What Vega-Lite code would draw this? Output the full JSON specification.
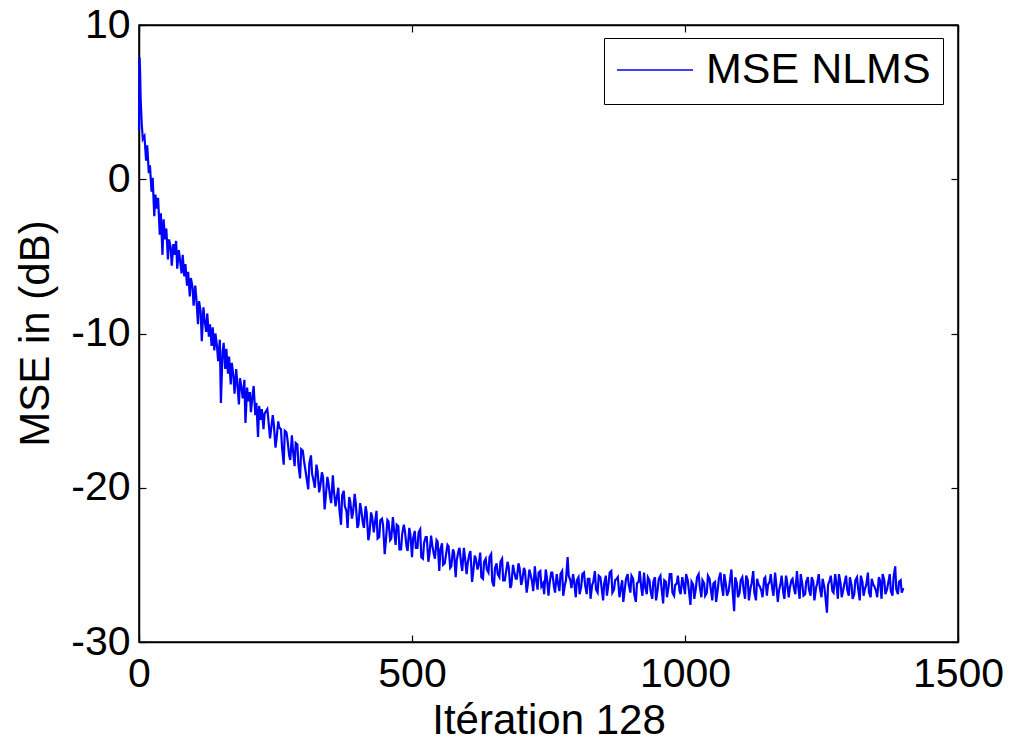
{
  "$schema": "https://vega.github.io/schema/vega-lite/v6.json",
  "width": 819,
  "height": 617,
  "autosize": {"type": "none"},
  "padding": {"left": 139, "top": 25, "right": 54, "bottom": 102},
  "background": "white",
  "config": {
    "view": {"stroke": "black", "strokeWidth": 1.5},
    "font": "Liberation Sans",
    "axis": {
      "grid": false,
      "domainColor": "black",
      "domainWidth": 1.5,
      "tickColor": "black",
      "tickWidth": 1.2,
      "tickSize": -7,
      "labelFont": "Liberation Sans",
      "labelFontSize": 41,
      "labelColor": "black",
      "titleFont": "Liberation Sans",
      "titleFontSize": 42,
      "titleFontWeight": "normal",
      "titleColor": "black"
    }
  },
  "data": {"values": [
    {"i":0,"v":3.2},{"i":1,"v":7.9},{"i":2,"v":7.0},{"i":3,"v":5.2},{"i":5,"v":3.6},{"i":7,"v":2.6},
    {"i":10,"v":2.8},{"i":13,"v":1.2},{"i":15,"v":2.2},{"i":18,"v":0.4},{"i":20,"v":0.9},{"i":23,"v":-0.8},
    {"i":25,"v":0.1},{"i":28,"v":-2.4},{"i":30,"v":-1.0},{"i":33,"v":-1.9},{"i":35,"v":-1.2},{"i":38,"v":-3.6},
    {"i":40,"v":-2.2},{"i":43,"v":-4.9},{"i":45,"v":-2.6},{"i":48,"v":-3.9},{"i":50,"v":-3.2},{"i":53,"v":-5.2},
    {"i":55,"v":-3.9},{"i":58,"v":-4.4},{"i":60,"v":-5.6},{"i":63,"v":-4.2},{"i":65,"v":-4.9},{"i":68,"v":-4.0},
    {"i":70,"v":-5.8},{"i":73,"v":-4.6},{"i":75,"v":-5.2},{"i":78,"v":-6.1},{"i":80,"v":-4.9},{"i":83,"v":-6.3},
    {"i":85,"v":-5.5},{"i":88,"v":-6.9},{"i":90,"v":-6.0},{"i":93,"v":-7.6},{"i":95,"v":-6.4},{"i":98,"v":-7.0},
    {"i":100,"v":-8.2},{"i":103,"v":-6.9},{"i":105,"v":-7.7},{"i":108,"v":-9.4},{"i":110,"v":-7.9},{"i":113,"v":-8.6},
    {"i":115,"v":-10.5},{"i":118,"v":-8.3},{"i":120,"v":-9.1},{"i":123,"v":-9.9},{"i":125,"v":-8.7},{"i":128,"v":-10.2},
    {"i":130,"v":-9.4},{"i":133,"v":-10.8},{"i":135,"v":-9.6},{"i":138,"v":-11.1},{"i":140,"v":-10.0},{"i":143,"v":-10.9},
    {"i":145,"v":-11.8},{"i":148,"v":-10.4},{"i":150,"v":-14.5},{"i":153,"v":-11.2},{"i":155,"v":-10.6},{"i":158,"v":-12.3},
    {"i":160,"v":-11.0},{"i":163,"v":-12.6},{"i":165,"v":-11.5},{"i":168,"v":-13.3},{"i":170,"v":-11.9},{"i":173,"v":-12.8},
    {"i":175,"v":-13.9},{"i":178,"v":-12.3},{"i":180,"v":-13.2},{"i":183,"v":-14.6},{"i":185,"v":-12.9},{"i":188,"v":-13.6},
    {"i":190,"v":-14.2},{"i":193,"v":-13.0},{"i":195,"v":-15.8},{"i":198,"v":-13.5},{"i":200,"v":-14.4},{"i":203,"v":-13.8},
    {"i":205,"v":-15.1},{"i":208,"v":-14.0},{"i":210,"v":-13.4},{"i":213,"v":-15.3},{"i":215,"v":-14.5},{"i":218,"v":-16.7},
    {"i":220,"v":-14.7},{"i":223,"v":-15.6},{"i":225,"v":-14.9},{"i":228,"v":-16.2},{"i":230,"v":-15.2},
    {"i":235,"v":-14.9},{"i":240,"v":-16.8},{"i":245,"v":-15.3},{"i":250,"v":-17.4},{"i":255,"v":-15.7},{"i":260,"v":-16.2},
    {"i":265,"v":-18.5},{"i":270,"v":-16.4},{"i":275,"v":-17.9},{"i":280,"v":-16.6},{"i":285,"v":-18.6},{"i":290,"v":-17.2},
    {"i":295,"v":-19.4},{"i":300,"v":-17.6},{"i":305,"v":-18.9},{"i":310,"v":-20.1},{"i":315,"v":-17.9},{"i":320,"v":-19.6},
    {"i":325,"v":-18.5},{"i":330,"v":-20.3},{"i":335,"v":-19.0},{"i":340,"v":-21.4},{"i":345,"v":-19.3},{"i":350,"v":-20.6},
    {"i":355,"v":-19.2},{"i":360,"v":-21.2},{"i":365,"v":-20.0},{"i":370,"v":-22.4},{"i":375,"v":-20.2},{"i":380,"v":-21.5},
    {"i":385,"v":-20.6},{"i":390,"v":-22.0},{"i":395,"v":-20.4},{"i":400,"v":-22.6},{"i":405,"v":-21.0},{"i":410,"v":-22.3},
    {"i":415,"v":-21.2},{"i":420,"v":-23.4},{"i":425,"v":-21.6},{"i":430,"v":-22.9},{"i":435,"v":-21.5},{"i":440,"v":-23.2},
    {"i":445,"v":-22.0},{"i":450,"v":-24.3},{"i":455,"v":-22.1},{"i":460,"v":-23.4},{"i":465,"v":-21.9},{"i":470,"v":-23.7},
    {"i":475,"v":-22.5},{"i":480,"v":-24.0},{"i":485,"v":-22.4},{"i":490,"v":-23.8},{"i":495,"v":-22.6},{"i":500,"v":-24.5},
    {"i":505,"v":-22.8},{"i":510,"v":-23.9},{"i":515,"v":-22.7},{"i":520,"v":-24.6},{"i":525,"v":-23.2},{"i":530,"v":-24.8},
    {"i":535,"v":-23.1},{"i":540,"v":-24.3},{"i":545,"v":-23.4},{"i":550,"v":-25.4},{"i":555,"v":-23.6},{"i":560,"v":-24.9},
    {"i":565,"v":-23.7},{"i":570,"v":-25.2},{"i":575,"v":-24.0},{"i":580,"v":-25.8},{"i":585,"v":-24.1},{"i":590,"v":-24.9},
    {"i":595,"v":-23.9},{"i":600,"v":-25.6},{"i":605,"v":-24.3},{"i":610,"v":-26.1},{"i":615,"v":-24.4},{"i":620,"v":-25.3},
    {"i":625,"v":-24.2},{"i":630,"v":-25.9},{"i":635,"v":-24.6},{"i":640,"v":-25.5},{"i":645,"v":-24.3},{"i":650,"v":-26.4},
    {"i":655,"v":-24.9},{"i":660,"v":-25.8},{"i":665,"v":-24.6},{"i":670,"v":-26.0},{"i":675,"v":-24.8},{"i":680,"v":-26.5},
    {"i":685,"v":-25.0},{"i":690,"v":-25.9},{"i":695,"v":-24.9},{"i":700,"v":-26.3},{"i":705,"v":-25.2},{"i":710,"v":-26.8},
    {"i":715,"v":-25.3},{"i":720,"v":-26.1},{"i":725,"v":-25.1},{"i":730,"v":-26.6},{"i":735,"v":-25.4},{"i":740,"v":-26.2},
    {"i":745,"v":-25.3},{"i":750,"v":-27.0},{"i":755,"v":-25.5},{"i":760,"v":-26.4},{"i":765,"v":-25.6},{"i":770,"v":-26.7},
    {"i":775,"v":-25.4},{"i":780,"v":-26.3},{"i":785,"v":-24.5},{"i":790,"v":-26.0},{"i":795,"v":-25.6},{"i":800,"v":-27.1},
    {"i":805,"v":-25.8},{"i":810,"v":-26.4},{"i":815,"v":-25.5},{"i":820,"v":-26.9},{"i":825,"v":-25.9},{"i":830,"v":-26.3},
    {"i":835,"v":-25.4},{"i":840,"v":-26.8},{"i":845,"v":-25.8},{"i":850,"v":-27.3},{"i":855,"v":-25.7},{"i":860,"v":-26.2},
    {"i":865,"v":-25.4},{"i":870,"v":-26.6},{"i":875,"v":-25.9},{"i":880,"v":-27.1},{"i":885,"v":-26.0},{"i":890,"v":-26.5},
    {"i":895,"v":-25.6},{"i":900,"v":-26.8},{"i":905,"v":-25.9},{"i":910,"v":-27.4},{"i":915,"v":-26.1},{"i":920,"v":-26.5},
    {"i":925,"v":-25.5},{"i":930,"v":-26.9},{"i":935,"v":-26.0},{"i":940,"v":-27.2},{"i":945,"v":-25.8},{"i":950,"v":-26.6},
    {"i":955,"v":-25.7},{"i":960,"v":-27.5},{"i":965,"v":-26.1},{"i":970,"v":-26.4},{"i":975,"v":-25.6},{"i":980,"v":-27.0},
    {"i":985,"v":-26.2},{"i":990,"v":-26.7},{"i":995,"v":-25.8},{"i":1000,"v":-26.9},{"i":1005,"v":-26.0},{"i":1010,"v":-27.6},
    {"i":1015,"v":-26.3},{"i":1020,"v":-26.5},{"i":1025,"v":-25.6},{"i":1030,"v":-27.1},{"i":1035,"v":-26.2},{"i":1040,"v":-26.8},
    {"i":1045,"v":-25.9},{"i":1050,"v":-27.3},{"i":1055,"v":-26.1},{"i":1060,"v":-26.6},{"i":1065,"v":-25.5},{"i":1070,"v":-27.0},
    {"i":1075,"v":-26.3},{"i":1080,"v":-26.7},{"i":1085,"v":-25.3},{"i":1090,"v":-28.0},{"i":1095,"v":-26.2},{"i":1100,"v":-26.8},
    {"i":1105,"v":-25.8},{"i":1110,"v":-27.2},{"i":1115,"v":-26.0},{"i":1120,"v":-26.5},{"i":1125,"v":-25.4},{"i":1130,"v":-27.3},
    {"i":1135,"v":-26.3},{"i":1140,"v":-26.7},{"i":1145,"v":-25.9},{"i":1150,"v":-27.0},{"i":1155,"v":-26.1},{"i":1160,"v":-26.6},
    {"i":1165,"v":-25.5},{"i":1170,"v":-27.4},{"i":1175,"v":-26.2},{"i":1180,"v":-26.8},{"i":1185,"v":-25.7},{"i":1190,"v":-27.1},
    {"i":1195,"v":-26.0},{"i":1200,"v":-26.6},{"i":1205,"v":-25.4},{"i":1210,"v":-27.2},{"i":1215,"v":-26.3},{"i":1220,"v":-26.9},
    {"i":1225,"v":-25.8},{"i":1230,"v":-27.0},{"i":1235,"v":-26.1},{"i":1240,"v":-26.5},{"i":1245,"v":-25.6},{"i":1250,"v":-27.1},
    {"i":1255,"v":-26.4},{"i":1260,"v":-28.1},{"i":1265,"v":-26.0},{"i":1270,"v":-26.7},{"i":1275,"v":-25.6},{"i":1280,"v":-27.2},
    {"i":1285,"v":-26.2},{"i":1290,"v":-26.6},{"i":1295,"v":-25.7},{"i":1300,"v":-27.0},{"i":1305,"v":-26.3},{"i":1310,"v":-26.9},
    {"i":1315,"v":-25.8},{"i":1320,"v":-27.3},{"i":1325,"v":-26.1},{"i":1330,"v":-26.5},{"i":1335,"v":-25.5},{"i":1340,"v":-27.1},
    {"i":1345,"v":-26.3},{"i":1350,"v":-26.7},{"i":1355,"v":-25.8},{"i":1360,"v":-27.2},{"i":1365,"v":-26.0},{"i":1370,"v":-26.6},
    {"i":1375,"v":-25.6},{"i":1380,"v":-27.0},{"i":1385,"v":-25.1},{"i":1390,"v":-26.9},{"i":1395,"v":-26.0},{"i":1400,"v":-26.5},
    {"i":237,"v":-15.6},{"i":242,"v":-16.2},{"i":247,"v":-15.9},{"i":252,"v":-16.8},{"i":257,"v":-16.1},{"i":262,"v":-17.4},
    {"i":267,"v":-16.3},{"i":272,"v":-16.9},{"i":277,"v":-18.2},{"i":282,"v":-17.6},{"i":287,"v":-17.1},{"i":292,"v":-18.5},
    {"i":297,"v":-17.5},{"i":302,"v":-18.2},{"i":307,"v":-19.4},{"i":312,"v":-18.4},{"i":317,"v":-19.1},{"i":322,"v":-20.0},
    {"i":327,"v":-18.9},{"i":332,"v":-19.9},{"i":337,"v":-19.3},{"i":342,"v":-20.6},{"i":347,"v":-19.7},{"i":352,"v":-21.0},
    {"i":357,"v":-20.2},{"i":362,"v":-20.7},{"i":367,"v":-21.4},{"i":372,"v":-20.5},{"i":377,"v":-21.2},{"i":382,"v":-22.6},
    {"i":387,"v":-20.9},{"i":392,"v":-21.6},{"i":397,"v":-21.0},
    {"i":402,"v":-22.4},{"i":407,"v":-21.4},{"i":412,"v":-22.6},{"i":417,"v":-21.6},{"i":422,"v":-23.0},{"i":427,"v":-21.9},
    {"i":432,"v":-22.3},{"i":437,"v":-23.3},{"i":442,"v":-22.1},{"i":447,"v":-22.4},{"i":452,"v":-23.5},{"i":457,"v":-22.2},
    {"i":462,"v":-23.3},{"i":467,"v":-22.7},{"i":472,"v":-22.4},{"i":477,"v":-24.0},{"i":482,"v":-23.0},{"i":487,"v":-22.8},
    {"i":492,"v":-24.1},{"i":497,"v":-23.0},{"i":502,"v":-23.3},{"i":507,"v":-23.9},{"i":512,"v":-22.9},{"i":517,"v":-24.5},
    {"i":522,"v":-23.6},{"i":527,"v":-23.2},{"i":532,"v":-24.3},{"i":537,"v":-23.7},{"i":542,"v":-24.6},{"i":547,"v":-23.5},
    {"i":552,"v":-24.0},{"i":557,"v":-25.0},{"i":562,"v":-24.4},{"i":567,"v":-23.8},{"i":572,"v":-25.1},{"i":577,"v":-24.2},
    {"i":582,"v":-24.7},{"i":587,"v":-23.9},{"i":592,"v":-25.4},{"i":597,"v":-24.5},{"i":602,"v":-24.9},{"i":607,"v":-24.1},
    {"i":612,"v":-25.5},{"i":617,"v":-24.6},{"i":622,"v":-25.0},{"i":627,"v":-25.8},{"i":632,"v":-24.8},{"i":637,"v":-25.3},
    {"i":642,"v":-24.5},{"i":647,"v":-26.1},{"i":652,"v":-25.2},{"i":657,"v":-25.6},{"i":662,"v":-24.8},{"i":667,"v":-26.0},
    {"i":672,"v":-25.5},{"i":677,"v":-25.1},{"i":682,"v":-26.3},{"i":687,"v":-25.4},{"i":692,"v":-25.9},{"i":697,"v":-25.2},
    {"i":702,"v":-26.0},{"i":707,"v":-25.4},{"i":712,"v":-26.3},{"i":717,"v":-25.6},{"i":722,"v":-26.7},{"i":727,"v":-25.9},
    {"i":732,"v":-25.5},{"i":737,"v":-26.4},{"i":742,"v":-26.9},{"i":747,"v":-25.8},{"i":752,"v":-26.2},{"i":757,"v":-25.5},
    {"i":762,"v":-26.8},{"i":767,"v":-26.1},{"i":772,"v":-25.6},{"i":777,"v":-27.0},{"i":782,"v":-26.0},{"i":787,"v":-25.7},
    {"i":792,"v":-26.5},{"i":797,"v":-26.1},
    {"i":802,"v":-26.0},{"i":807,"v":-26.9},{"i":812,"v":-25.6},{"i":817,"v":-26.3},{"i":822,"v":-25.9},{"i":827,"v":-27.2},
    {"i":832,"v":-26.1},{"i":837,"v":-26.6},{"i":842,"v":-25.7},{"i":847,"v":-26.4},{"i":852,"v":-26.2},{"i":857,"v":-27.0},
    {"i":862,"v":-25.5},{"i":867,"v":-26.8},{"i":872,"v":-26.0},{"i":877,"v":-25.8},{"i":882,"v":-26.6},{"i":887,"v":-27.4},
    {"i":892,"v":-25.9},{"i":897,"v":-26.3},{"i":902,"v":-25.7},{"i":907,"v":-26.9},{"i":912,"v":-26.2},{"i":917,"v":-25.4},
    {"i":922,"v":-27.0},{"i":927,"v":-26.4},{"i":932,"v":-25.8},{"i":937,"v":-26.7},{"i":942,"v":-26.1},{"i":947,"v":-27.3},
    {"i":952,"v":-25.9},{"i":957,"v":-26.5},{"i":962,"v":-26.0},{"i":967,"v":-27.1},{"i":972,"v":-25.6},{"i":977,"v":-26.8},
    {"i":982,"v":-26.3},{"i":987,"v":-25.7},{"i":992,"v":-26.9},{"i":997,"v":-26.2},{"i":1002,"v":-25.6},{"i":1007,"v":-26.6},
    {"i":1012,"v":-26.1},{"i":1017,"v":-27.2},{"i":1022,"v":-25.8},{"i":1027,"v":-26.4},{"i":1032,"v":-26.0},{"i":1037,"v":-27.0},
    {"i":1042,"v":-25.7},{"i":1047,"v":-26.5},{"i":1052,"v":-26.2},{"i":1057,"v":-27.4},{"i":1062,"v":-25.9},{"i":1067,"v":-26.3},
    {"i":1072,"v":-25.6},{"i":1077,"v":-27.0},{"i":1082,"v":-26.1},{"i":1087,"v":-26.6},{"i":1092,"v":-25.8},{"i":1097,"v":-27.1},
    {"i":1102,"v":-26.0},{"i":1107,"v":-26.5},{"i":1112,"v":-25.7},{"i":1117,"v":-27.3},{"i":1122,"v":-26.2},{"i":1127,"v":-26.8},
    {"i":1132,"v":-25.9},{"i":1137,"v":-26.4},{"i":1142,"v":-27.1},{"i":1147,"v":-25.8},{"i":1152,"v":-26.3},{"i":1157,"v":-25.6},
    {"i":1162,"v":-27.0},{"i":1167,"v":-26.2},{"i":1172,"v":-26.7},{"i":1177,"v":-25.7},{"i":1182,"v":-27.2},{"i":1187,"v":-26.1},
    {"i":1192,"v":-26.5},{"i":1197,"v":-25.9},{"i":1202,"v":-26.9},{"i":1207,"v":-26.3},{"i":1212,"v":-25.6},{"i":1217,"v":-27.0},
    {"i":1222,"v":-26.1},{"i":1227,"v":-26.6},{"i":1232,"v":-25.8},{"i":1237,"v":-27.3},{"i":1242,"v":-26.2},{"i":1247,"v":-26.5},
    {"i":1252,"v":-25.9},{"i":1257,"v":-27.0},{"i":1262,"v":-26.3},{"i":1267,"v":-25.7},{"i":1272,"v":-26.8},{"i":1277,"v":-26.1},
    {"i":1282,"v":-25.6},{"i":1287,"v":-27.1},{"i":1292,"v":-26.2},{"i":1297,"v":-26.6},{"i":1302,"v":-25.8},{"i":1307,"v":-27.2},
    {"i":1312,"v":-26.0},{"i":1317,"v":-26.5},{"i":1322,"v":-25.7},{"i":1327,"v":-27.0},{"i":1332,"v":-26.3},{"i":1337,"v":-26.8},
    {"i":1342,"v":-25.9},{"i":1347,"v":-26.4},{"i":1352,"v":-27.1},{"i":1357,"v":-26.0},{"i":1362,"v":-25.6},{"i":1367,"v":-26.9},
    {"i":1372,"v":-26.2},{"i":1377,"v":-26.7},{"i":1382,"v":-25.8},{"i":1387,"v":-26.6},{"i":1392,"v":-26.1},{"i":1397,"v":-26.8}
  ]},
  "resolve": {"axis": {"x": "independent", "y": "independent"}},
  "layer": [
    {
      "mark": {"type": "line", "strokeWidth": 2.2, "interpolate": "linear"},
      "encoding": {
        "x": {"field": "i", "type": "quantitative",
              "scale": {"domain": [0, 1500], "nice": false, "zero": false},
              "axis": {"orient": "bottom", "values": [0, 500, 1000, 1500], "labelPadding": 19, "labelFlush": false, "labelOverlap": false,
                       "labelExpr": "'' + datum.value",
                       "title": "Itération 128", "titleY": 91, "titleBaseline": "alphabetic"}},
        "y": {"field": "v", "type": "quantitative",
              "scale": {"domain": [-30, 10], "nice": false, "zero": false},
              "axis": {"orient": "left", "values": [-30, -20, -10, 0, 10], "labelPadding": 16, "labelFlush": false, "labelOverlap": false,
                       "labelExpr": "'' + datum.value",
                       "title": "MSE in (dB)", "titleX": -104, "titleY": 308, "titleBaseline": "middle", "titleAngle": -90}},
        "color": {"datum": "MSE NLMS", "type": "nominal",
                  "scale": {"range": ["#0000ff"]},
                  "legend": {"orient": "none", "legendX": 465, "legendY": 13, "title": null,
                             "strokeColor": "black", "fillColor": "white", "padding": 12,
                             "symbolType": "stroke", "symbolSize": 5776, "symbolStrokeWidth": 1.5,
                             "clipHeight": 40,
                             "labelFont": "Liberation Sans", "labelFontSize": 43, "labelColor": "black", "labelOffset": 12, "labelLimit": 0}}
      }
    },
    {
      "mark": {"type": "line", "opacity": 0},
      "encoding": {
        "x": {"field": "i", "type": "quantitative",
              "axis": {"orient": "top", "values": [0, 500, 1000, 1500], "labels": false, "title": null}},
        "y": {"field": "v", "type": "quantitative",
              "axis": {"orient": "right", "values": [-30, -20, -10, 0, 10], "labels": false, "title": null}}
      }
    }
  ]
}
